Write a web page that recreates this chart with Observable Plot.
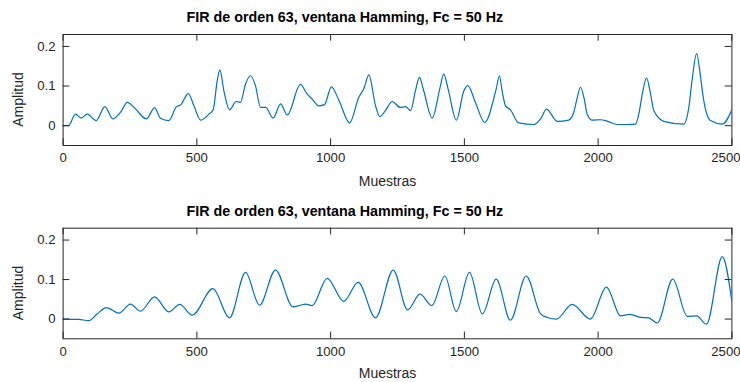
<!DOCTYPE html>
<html>
<head>
<meta charset="utf-8">
<script src="https://cdn.jsdelivr.net/npm/d3@7"></script>
<script src="https://cdn.jsdelivr.net/npm/@observablehq/plot@0.6"></script>
<style>
  html, body { margin: 0; padding: 0; background: white; }
  #fig { width: 740px; }
  #fig svg { display: block; }
</style>
</head>
<body>
<div id="fig"></div>
<script>
// Filtered signal, first panel: sample index and amplitude
const muestras1 = [0, 20, 46, 68, 90, 124, 156, 186, 215, 240, 271, 311, 342, 364, 395, 424, 439, 468, 489, 514,
  545, 561, 576, 586, 601, 622, 647, 663, 682, 700, 719, 738, 757, 785, 813, 838, 887, 912, 931, 956,
  977, 1003, 1031, 1071, 1105, 1124, 1143, 1168, 1184, 1205, 1230, 1261, 1280, 1299, 1317, 1332, 1348, 1380, 1408, 1423,
  1439, 1470, 1498, 1513, 1541, 1576, 1619, 1631, 1641, 1654, 1672, 1703, 1760, 1785, 1807, 1847, 1890, 1909, 1922, 1934,
  1947, 1959, 1978, 2009, 2036, 2071, 2109, 2140, 2152, 2165, 2181, 2196, 2208, 2245, 2320, 2339, 2351, 2368, 2383, 2393,
  2420, 2464, 2500];
const amplitud1 = [0, 0.000, 0.029, 0.019, 0.029, 0.013, 0.048, 0.017, 0.034, 0.059, 0.042, 0.017, 0.045, 0.019, 0.013, 0.048, 0.052, 0.081, 0.050, 0.014,
  0.029, 0.040, 0.113, 0.141, 0.088, 0.040, 0.061, 0.059, 0.105, 0.126, 0.101, 0.046, 0.046, 0.019, 0.055, 0.027, 0.104, 0.080, 0.067, 0.050,
  0.053, 0.098, 0.064, 0.007, 0.071, 0.093, 0.128, 0.050, 0.023, 0.038, 0.061, 0.046, 0.048, 0.038, 0.088, 0.122, 0.088, 0.019, 0.093, 0.130,
  0.093, 0.014, 0.088, 0.101, 0.059, 0.008, 0.093, 0.126, 0.088, 0.050, 0.040, 0.007, 0.003, 0.017, 0.042, 0.011, 0.014, 0.034, 0.071, 0.097,
  0.071, 0.029, 0.014, 0.015, 0.011, 0.003, 0.003, 0.004, 0.029, 0.080, 0.120, 0.080, 0.038, 0.011, 0.004, 0.046, 0.114, 0.182, 0.122, 0.071,
  0.013, 0.004, 0.040];

// Filtered signal, second panel
const muestras2 = [0, 59, 96, 127, 162, 208, 252, 289, 342, 395, 436, 483, 560, 622, 682, 734, 794, 859, 887, 906,
  931, 987, 1049, 1103, 1168, 1234, 1288, 1334, 1378, 1427, 1470, 1519, 1567, 1619, 1672, 1731, 1785, 1810, 1844, 1903,
  1971, 2031, 2084, 2118, 2158, 2189, 2221, 2279, 2333, 2368, 2405, 2464, 2500];
const amplitud2 = [0, -0.001, -0.004, 0.013, 0.029, 0.015, 0.038, 0.020, 0.056, 0.018, 0.037, 0.010, 0.077, 0.003, 0.118, 0.035, 0.124, 0.031, 0.035, 0.038,
  0.034, 0.103, 0.045, 0.093, 0.003, 0.124, 0.023, 0.063, 0.034, 0.109, 0.019, 0.118, 0.013, 0.101, -0.003, 0.109, 0.013, 0.004, 0.000, 0.037,
  0.000, 0.081, 0.008, 0.012, 0.004, 0.003, -0.010, 0.101, 0.007, 0.008, -0.013, 0.158, 0.044];

const xTicks = [0, 500, 1000, 1500, 2000, 2500];
const yTicks = [0, 0.1, 0.2];
const yTickLabels = ["0", "0.1", "0.2"];
const titulo = "FIR de orden 63, ventana Hamming, Fc = 50 Hz";
const xLabel = "Muestras";
const yLabel = "Amplitud";

const W = 740, ML = 62.6, MR = 8.6;
const innerW = W - ML - MR;
const TICK = 6.7;
const INK = "#262626";
const FONT = "'Liberation Sans', Arial, Helvetica, sans-serif";

function panel(xs, ys, {height, marginTop, marginBottom, titleDy, xLabelDy}) {
  const innerH = height - marginTop - marginBottom;
  const data = xs.map((x, i) => ({x, y: ys[i]}));
  return Plot.plot({
    width: W, height, marginLeft: ML, marginRight: MR, marginTop, marginBottom,
    x: {domain: [0, 2500], axis: null},
    y: {domain: [-0.05, 0.23], axis: null},
    style: {fontFamily: FONT, background: "white", overflow: "visible"},
    marks: [
      Plot.line(data, {x: "x", y: "y", stroke: "#0072BD", strokeWidth: 1.2, curve: "monotone-x", clip: true}),
      Plot.frame({stroke: INK, strokeWidth: 1}),
      // inward ticks on all four sides
      Plot.tickX(xTicks, {x: d => d, insetTop: innerH - TICK, stroke: INK}),
      Plot.tickX(xTicks, {x: d => d, insetBottom: innerH - TICK, stroke: INK}),
      Plot.tickY(yTicks, {y: d => d, insetRight: innerW - TICK, stroke: INK}),
      Plot.tickY(yTicks, {y: d => d, insetLeft: innerW - TICK, stroke: INK}),
      // tick labels
      Plot.text(xTicks.filter(d => d < 2500), {x: d => d, text: d => String(d), frameAnchor: "bottom", dy: 12.5,
        lineAnchor: "middle", fontSize: 13.2, fill: INK}),
      Plot.text(xTicks.filter(d => d === 2500), {x: d => d, text: d => String(d), frameAnchor: "bottom", dy: 12.5, dx: -6,
        lineAnchor: "middle", fontSize: 13.2, fill: INK}),
      Plot.text(yTicks, {y: d => d, text: (d, i) => yTickLabels[i], frameAnchor: "left", dx: -7.5,
        textAnchor: "end", lineAnchor: "middle", fontSize: 13.2, fill: INK}),
      // axis labels and title
      Plot.text([xLabel], {text: d => d, frameAnchor: "bottom", dx: -10, dy: xLabelDy,
        lineAnchor: "middle", fontSize: 14, fill: INK}),
      Plot.text([yLabel], {text: d => d, frameAnchor: "left", dx: -44.3, dy: 9.5, rotate: -90,
        textAnchor: "middle", lineAnchor: "middle", fontSize: 14, fill: INK}),
      Plot.text([titulo], {text: d => d, frameAnchor: "top-left", dx: 123.4, dy: titleDy,
        textAnchor: "start", lineAnchor: "middle", fontSize: 14.3, fontWeight: "bold", fill: "#000"})
    ]
  });
}

const fig = document.getElementById("fig");
fig.append(panel(muestras1, amplitud1, {height: 194, marginTop: 34, marginBottom: 49, titleDy: -17, xLabelDy: 36}));
fig.append(panel(muestras2, amplitud2, {height: 188, marginTop: 33.7, marginBottom: 43.7, titleDy: -16.7, xLabelDy: 35}));
</script>
</body>
</html>
